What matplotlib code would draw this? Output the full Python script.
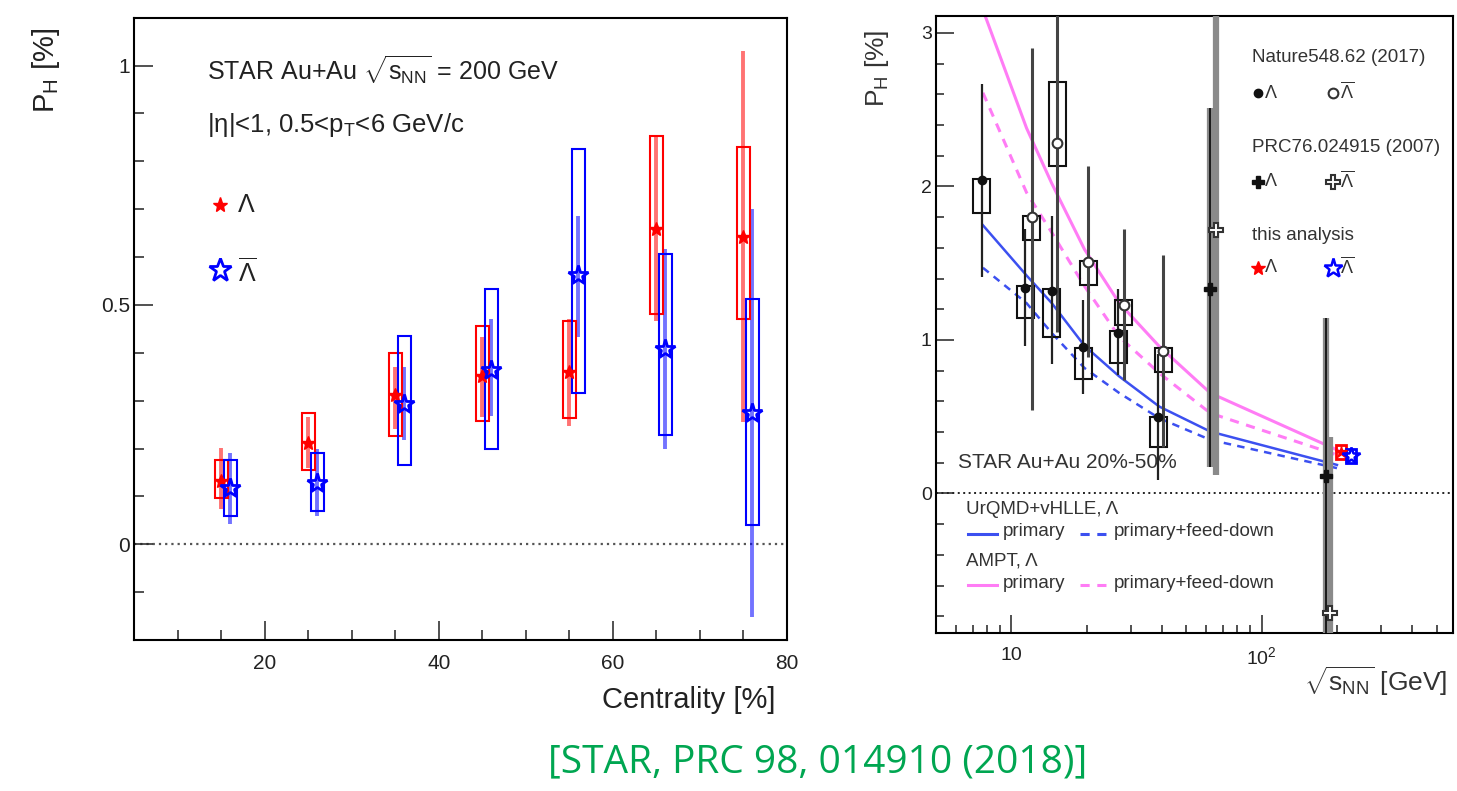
import numpy as np
import matplotlib
matplotlib.use('Agg')
import matplotlib.pyplot as plt
from matplotlib.patches import Rectangle
from matplotlib.ticker import MultipleLocator, LogLocator, NullFormatter

plt.rcParams['font.family'] = ['Liberation Sans', 'DejaVu Sans']
plt.rcParams['mathtext.fontset'] = 'custom'
plt.rcParams['mathtext.rm'] = 'Liberation Sans'
plt.rcParams['mathtext.it'] = 'Liberation Sans:italic'
plt.rcParams['mathtext.bf'] = 'Liberation Sans:bold'

# ---- left panel: P_H vs centrality (200 GeV) ----
cent_lam = [15, 25, 35, 45, 55, 65, 75]
lam_val = [0.132, 0.211, 0.311, 0.351, 0.36, 0.658, 0.642]
lam_stat_lo = [0.073, 0.16, 0.24, 0.265, 0.247, 0.466, 0.256]
lam_stat_hi = [0.202, 0.265, 0.37, 0.433, 0.47, 0.85, 1.03]
lam_sys_lo = [0.097, 0.155, 0.226, 0.257, 0.263, 0.482, 0.471]
lam_sys_hi = [0.176, 0.275, 0.40, 0.456, 0.467, 0.852, 0.83]

cent_alam = [16, 26, 36, 46, 56, 66, 76]
alam_val = [0.118, 0.129, 0.293, 0.365, 0.562, 0.408, 0.275]
alam_stat_lo = [0.042, 0.06, 0.217, 0.268, 0.432, 0.198, -0.152]
alam_stat_hi = [0.191, 0.2, 0.37, 0.47, 0.685, 0.616, 0.70]
alam_sys_lo = [0.06, 0.07, 0.165, 0.2, 0.315, 0.228, 0.04]
alam_sys_hi = [0.176, 0.191, 0.435, 0.534, 0.825, 0.607, 0.513]

# ---- right panel: P_H vs sqrt(s_NN) ----
nat_lam_x = [7.61, 11.38, 14.49, 19.41, 26.8, 38.7]
nat_lam = [2.04, 1.34, 1.32, 0.954, 1.045, 0.497]
nat_lam_stat_lo = [1.41, 0.96, 0.84, 0.65, 0.773, 0.09]
nat_lam_stat_hi = [2.67, 1.72, 1.81, 1.26, 1.33, 0.91]
nat_lam_sys_lo = [1.83, 1.14, 1.02, 0.745, 0.849, 0.30]
nat_lam_sys_hi = [2.05, 1.35, 1.33, 0.947, 1.055, 0.497]

nat_alam_x = [12.06, 15.27, 20.32, 28.1, 40.5]
nat_alam = [1.80, 2.285, 1.51, 1.23, 0.925]
nat_alam_stat_lo = [0.545, 1.05, 0.89, 0.74, 0.30]
nat_alam_stat_hi = [2.9, 3.5, 2.13, 1.72, 1.55]
nat_alam_sys_lo = [1.65, 2.13, 1.358, 1.095, 0.79]
nat_alam_sys_hi = [1.806, 2.68, 1.517, 1.258, 0.947]

prc_lam_x = [62.2, 181]
prc_lam = [1.332, 0.114]
prc_lam_stat_lo = [0.175, -1.0]
prc_lam_stat_hi = [2.51, 1.143]
prc_alam_x = [65.6, 187.5]
prc_alam = [1.714, -0.78]
prc_alam_stat_lo = [0.12, -1.9]
prc_alam_stat_hi = [3.4, 0.367]

this_lam_x = [207.6]
this_lam = [0.27]
this_lam_sys = [0.048]
this_alam_x = [227]
this_alam = [0.245]
this_alam_sys = [0.045]

model_e = [7.7, 11.5, 14.5, 19.6, 27, 39, 62.4, 200]
urqmd_prim = [1.747, 1.42, 1.24, 0.962, 0.762, 0.566, 0.403, 0.186]
urqmd_fd = [1.47, 1.24, 1.045, 0.817, 0.654, 0.49, 0.349, 0.165]
ampt_prim = [3.15, 2.38, 2.02, 1.59, 1.24, 0.958, 0.654, 0.284]
ampt_fd = [2.61, 1.96, 1.70, 1.35, 1.02, 0.784, 0.523, 0.251]

W, H = 1457, 791
fig = plt.figure(figsize=(W / 100, H / 100), dpi=100)

# panel frames in pixels (left, right, top, bottom)
LP = (134.3, 787.0, 17.7, 640.0)
RP = (936.0, 1452.7, 16.0, 632.7)


def add_panel(p):
    l, r, t, b = p
    return fig.add_axes([l / W, 1 - b / H, (r - l) / W, (b - t) / H])


def afrac(p, x, y):
    l, r, t, b = p
    return (x - l) / (r - l), (b - y) / (b - t)


def style(ax, major, minor, fs):
    for s in ax.spines.values():
        s.set_linewidth(1.5)
    ax.tick_params(which='both', direction='in', top=False, right=False,
                   width=1.1, labelsize=fs, colors='#222222')
    ax.tick_params(which='major', length=major)
    ax.tick_params(which='minor', length=minor)


RED = '#ff0000'
BLUE = '#0000ff'

# ================= left =================
ax1 = add_panel(LP)
ax1.set_xlim(5, 80)
ax1.set_ylim(-0.2, 1.1)
ax1.axhline(0, color='#555555', lw=1.6, ls=(0, (1, 1.8)), zorder=1)

bw = 1.5
for x, lo, hi in zip(cent_lam, lam_sys_lo, lam_sys_hi):
    ax1.add_patch(Rectangle((x - bw / 2, lo), bw, hi - lo, fill=False,
                            ec=RED, lw=1.5, zorder=3))
for x, lo, hi in zip(cent_alam, alam_sys_lo, alam_sys_hi):
    ax1.add_patch(Rectangle((x - bw / 2, lo), bw, hi - lo, fill=False,
                            ec=BLUE, lw=1.5, zorder=3))
ax1.vlines(cent_lam, lam_stat_lo, lam_stat_hi, colors=RED, lw=2.8, alpha=0.55, zorder=2)
ax1.vlines(cent_alam, alam_stat_lo, alam_stat_hi, colors=BLUE, lw=2.8, alpha=0.55, zorder=2)
ax1.plot(cent_lam, lam_val, ls='none', marker='*', ms=10, color=RED, zorder=4)
ax1.plot(cent_alam, alam_val, ls='none', marker='*', ms=15, mfc='none',
         mec=BLUE, mew=2, zorder=4)

ax1.xaxis.set_major_locator(MultipleLocator(20))
ax1.xaxis.set_minor_locator(MultipleLocator(5))
ax1.set_yticks([0, 0.5, 1])
ax1.set_yticklabels(['0', '0.5', '1'])
ax1.yaxis.set_minor_locator(MultipleLocator(0.1))
style(ax1, 14, 7.5, 15)
ax1.tick_params(axis='x', pad=10)
ax1.tick_params(axis='y', pad=3)

tx = afrac(LP, 207, 70)
ax1.text(tx[0], tx[1], r'STAR Au+Au $\sqrt{\mathrm{s}_{\mathrm{NN}}}$ = 200 GeV',
         transform=ax1.transAxes, fontsize=18, va='center', ha='left', color='#222222')
tx = afrac(LP, 207, 125)
ax1.text(tx[0], tx[1], r'|η|<1, 0.5<p$_{\mathrm{T}}$<6 GeV/c',
         transform=ax1.transAxes, fontsize=18.5, va='center', ha='left', color='#222222')
mx = afrac(LP, 220, 205)
ax1.plot([mx[0]], [mx[1]], transform=ax1.transAxes, marker='*', ms=11, color=RED, clip_on=False)
tx = afrac(LP, 238, 205)
ax1.text(tx[0], tx[1], 'Λ', transform=ax1.transAxes, fontsize=18, va='center', color='#222222')
mx = afrac(LP, 220, 270)
ax1.plot([mx[0]], [mx[1]], transform=ax1.transAxes, marker='*', ms=17, mfc='none',
         mec=BLUE, mew=2, clip_on=False)
tx = afrac(LP, 238, 272)
ax1.text(tx[0], tx[1], r'$\overline{\Lambda}$', transform=ax1.transAxes, fontsize=18,
         va='center', color='#222222')

fig.text(46 / W, 1 - 28 / H, r'P$_{\mathrm{H}}$ [%]', rotation=90, ha='center', va='top',
         fontsize=21, color='#222222')
fig.text(775 / W, 1 - 700 / H, 'Centrality [%]', ha='right', va='center',
         fontsize=21, color='#222222')

# ================= right =================
ax2 = add_panel(RP)
ax2.set_xscale('log')
ax2.set_xlim(5, 580)
ax2.set_ylim(-0.907, 3.11)
ax2.axhline(0, color='#222222', lw=1.4, ls=(0, (1, 1.8)), zorder=1)

UBLUE = '#3c50f0'
PINK = '#ff7cf5'
ax2.plot(model_e, ampt_prim, color=PINK, lw=2.2, zorder=2)
ax2.plot(model_e, ampt_fd, color=PINK, lw=2.2, ls=(0, (3, 2.5)), zorder=2)
ax2.plot(model_e, urqmd_prim, color=UBLUE, lw=1.8, zorder=2)
ax2.plot(model_e, urqmd_fd, color=UBLUE, lw=1.8, ls=(0, (3, 2.5)), zorder=2)

hw = 10 ** 0.035
for x, lo, hi in zip(nat_lam_x + nat_alam_x, nat_lam_sys_lo + nat_alam_sys_lo,
                     nat_lam_sys_hi + nat_alam_sys_hi):
    ax2.add_patch(Rectangle((x / hw, lo), x * hw - x / hw, hi - lo, fill=False,
                            ec='#111111', lw=1.5, zorder=3))
ax2.vlines(nat_lam_x, nat_lam_stat_lo, nat_lam_stat_hi, colors='#222222', lw=1.6, zorder=3)
ax2.vlines(nat_alam_x, nat_alam_stat_lo, nat_alam_stat_hi, colors='#444444', lw=2.2, zorder=3)
ax2.vlines(prc_lam_x + prc_alam_x, prc_lam_stat_lo + prc_alam_stat_lo,
           prc_lam_stat_hi + prc_alam_stat_hi, colors='#8a8a8a', lw=4.5, zorder=3)
ax2.vlines(prc_lam_x, prc_lam_stat_lo, prc_lam_stat_hi, colors='#111111', lw=1.3, zorder=3)
ax2.plot(nat_lam_x, nat_lam, ls='none', marker='o', ms=6, color='#111111', zorder=4)
ax2.plot(nat_alam_x, nat_alam, ls='none', marker='o', ms=7, mfc='white',
         mec='#333333', mew=1.5, zorder=4)
ax2.plot(prc_lam_x, prc_lam, ls='none', marker='P', ms=9, color='#111111', zorder=4)
ax2.plot(prc_alam_x, prc_alam, ls='none', marker='P', ms=10, mfc='white',
         mec='#333333', mew=1.5, zorder=4)

hw2 = 10 ** 0.02
for x, v, e, c in zip(this_lam_x + this_alam_x, this_lam + this_alam,
                      this_lam_sys + this_alam_sys, [RED, BLUE]):
    ax2.add_patch(Rectangle((x / hw2, v - e), x * hw2 - x / hw2, 2 * e, fill=False,
                            ec=c, lw=2.0, zorder=4))
ax2.plot(this_lam_x, this_lam, ls='none', marker='*', ms=9, color=RED, zorder=5)
ax2.plot(this_alam_x, this_alam, ls='none', marker='*', ms=13, mfc='none',
         mec=BLUE, mew=1.8, zorder=5)

ax2.set_xticks([10, 100])
ax2.set_xticklabels(['10', r'10$^{2}$'])
ax2.xaxis.set_minor_locator(LogLocator(base=10, subs=np.arange(2, 10)))
ax2.xaxis.set_minor_formatter(NullFormatter())
ax2.set_yticks([0, 1, 2, 3])
ax2.yaxis.set_minor_locator(MultipleLocator(0.2))
style(ax2, 13, 6, 14)
ax2.tick_params(axis='x', pad=10)
ax2.tick_params(axis='y', pad=3)

TC = '#333333'


def rtext(x, y, s, fs=13.5, **kw):
    p = afrac(RP, x, y)
    ax2.text(p[0], p[1], s, transform=ax2.transAxes, fontsize=fs, va='center',
             ha='left', color=TC, **kw)


def rmark(x, y, **kw):
    p = afrac(RP, x, y)
    ax2.plot([p[0]], [p[1]], transform=ax2.transAxes, ls='none', clip_on=False, **kw)


rtext(1252, 58, 'Nature548.62 (2017)')
rmark(1258, 93, marker='o', ms=6, color='#111111')
rtext(1265, 93, 'Λ', fs=13)
rmark(1333, 93, marker='o', ms=7, mfc='white', mec='#333333', mew=1.5)
rtext(1340, 92, r'$\overline{\Lambda}$', fs=13)
rtext(1252, 147, 'PRC76.024915 (2007)')
rmark(1258, 182, marker='P', ms=9, color='#111111')
rtext(1265, 182, 'Λ', fs=13)
rmark(1333, 182, marker='P', ms=10, mfc='white', mec='#333333', mew=1.5)
rtext(1340, 181, r'$\overline{\Lambda}$', fs=13)
rtext(1252, 236, 'this analysis')
rmark(1258, 268, marker='*', ms=10, color=RED)
rtext(1265, 268, 'Λ', fs=13)
rmark(1333, 268, marker='*', ms=14, mfc='none', mec=BLUE, mew=1.8)
rtext(1340, 267, r'$\overline{\Lambda}$', fs=13)

rtext(958, 463, 'STAR Au+Au 20%-50%', fs=15)
rtext(966, 510, 'UrQMD+vHLLE, Λ')
rtext(966, 561, 'AMPT, Λ')
for y, c in [(534, UBLUE), (585, PINK)]:
    a = afrac(RP, 968, y)
    b = afrac(RP, 997, y)
    ax2.plot([a[0], b[0]], [a[1], b[1]], transform=ax2.transAxes, color=c, lw=2.2)
    a = afrac(RP, 1080, y)
    b = afrac(RP, 1108, y)
    ax2.plot([a[0], b[0]], [a[1], b[1]], transform=ax2.transAxes, color=c, lw=2.2,
             ls=(0, (3, 2.5)))
    rtext(1003, y - 2, 'primary')
    rtext(1114, y - 2, 'primary+feed-down')

fig.text(877 / W, 1 - 30 / H, r'P$_{\mathrm{H}}$ [%]', rotation=90, ha='center', va='top',
         fontsize=19, color=TC)
fig.text(1447 / W, 1 - 681 / H, r'$\sqrt{\mathrm{s}_{\mathrm{NN}}}$ [GeV]', ha='right',
         va='center', fontsize=19, color=TC)

fig.text(818 / W, 1 - 762 / H, '[STAR, PRC 98, 014910 (2018)]', ha='center', va='center',
         fontsize=28, color='#00a651', family=['Open Sans', 'DejaVu Sans'])

fig.savefig('out.png', dpi=100)
